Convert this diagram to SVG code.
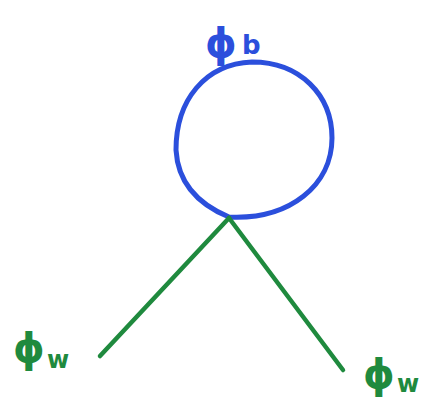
<svg xmlns="http://www.w3.org/2000/svg" width="432" height="401" viewBox="0 0 432 401">
<style>
.blue{stroke:#2b4fdc;fill:none;stroke-width:5;stroke-linecap:round;stroke-linejoin:round}
.green{stroke:#1f8a3e;fill:none;stroke-width:4.5;stroke-linecap:round}
.lb{font-family:"DejaVu Sans",sans-serif;font-weight:bold;fill:#2b4fdc}
.lg{font-family:"DejaVu Sans",sans-serif;font-weight:bold;fill:#1f8a3e}
</style>
<rect width="432" height="401" fill="#fff"/>
<g id="loop">
<path class="blue" d="M229,217 C200,205 178,185 176,150 C176,100 205,64 252,62 C300,62 332,95 332,138 C332,185 290,220 229,217 Z"/>
</g>
<g id="connectors">
<line class="green" x1="229" y1="218" x2="100" y2="356"/>
<line class="green" x1="229" y1="218" x2="343" y2="370"/>
</g>
<g id="label-b">
<text class="lb" x="205" y="57" font-size="40">ϕ</text>
<text class="lb" x="242" y="54" font-size="26">b</text>
</g>
<g id="label-w1">
<text class="lg" x="13" y="362" font-size="40">ϕ</text>
<text class="lg" x="47" y="368" font-size="24">w</text>
</g>
<g id="label-w2">
<text class="lg" x="363" y="388" font-size="40">ϕ</text>
<text class="lg" x="397" y="392" font-size="24">w</text>
</g>
</svg>
